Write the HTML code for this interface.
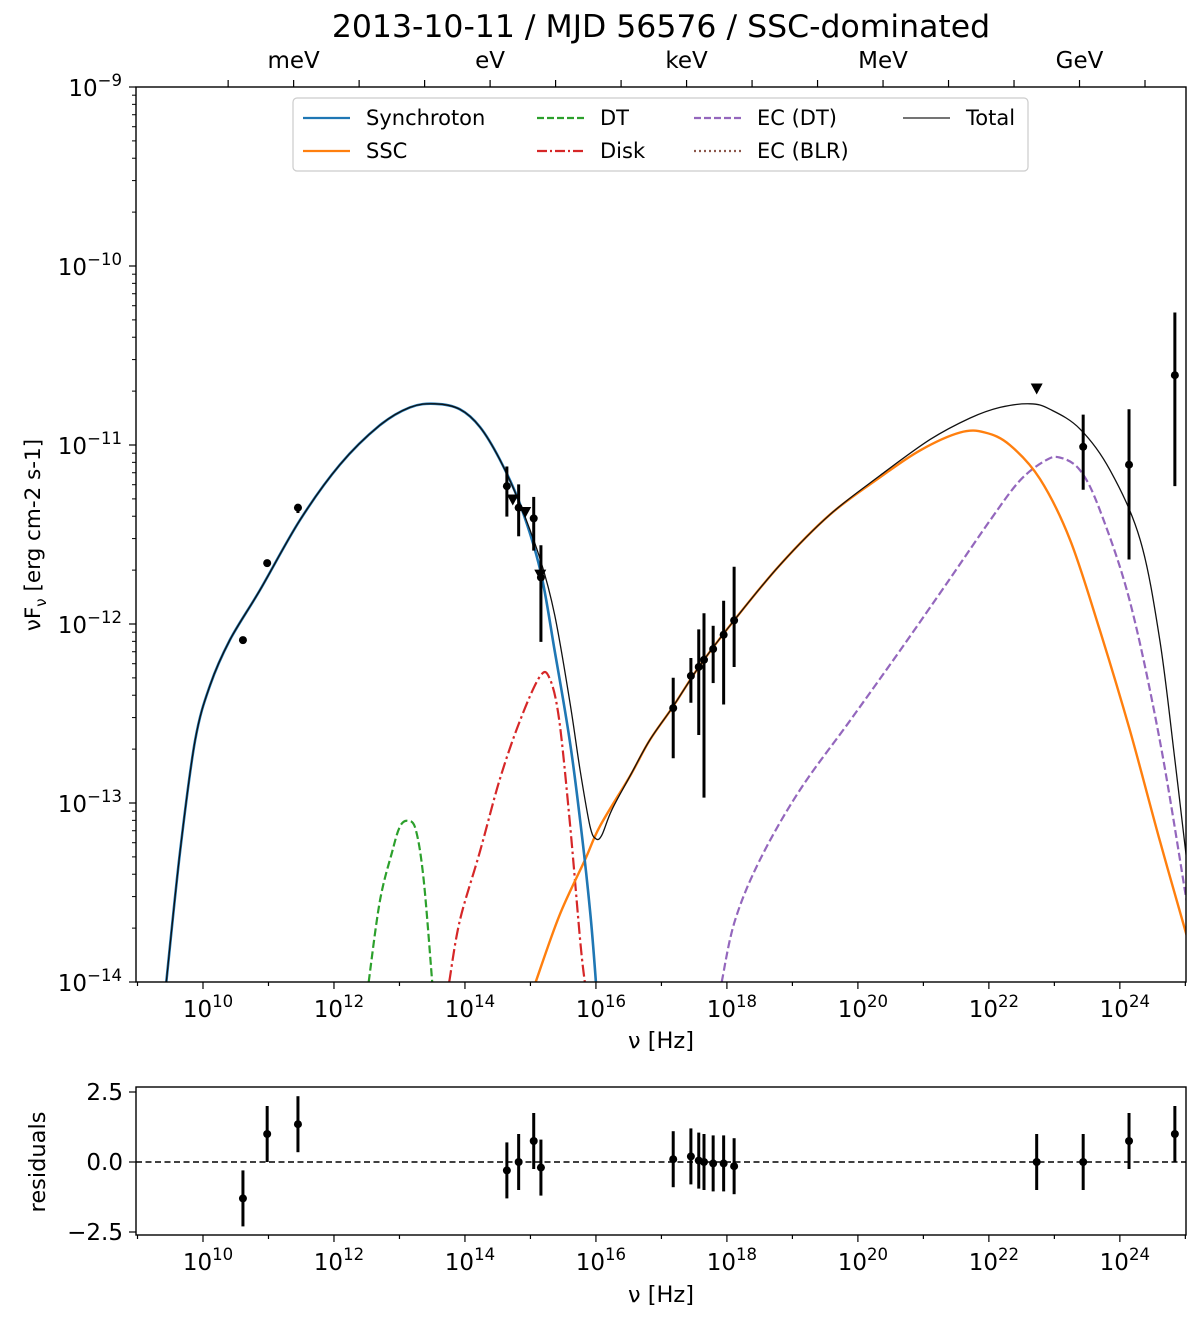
<!DOCTYPE html>
<html><head><meta charset="utf-8"><style>
body{margin:0;background:#fff}
svg text{font-family:"DejaVu Sans","Liberation Sans",sans-serif;fill:#000}
</style></head><body>
<svg id="c" width="1200" height="1322" viewBox="0 0 1200 1322" xmlns="http://www.w3.org/2000/svg"></svg>
<script>
// ---- data (log10 values) ----
const syncX=[9.44,9.65,9.88,10.11,10.41,10.87,11.48,12.09,12.70,13.16,13.54,13.92,14.23,14.53,14.84,15.15,15.37,15.60,15.76,15.91,16.00];
const syncY=[-14.00,-13.27,-12.65,-12.34,-12.09,-11.81,-11.42,-11.11,-10.89,-10.79,-10.77,-10.80,-10.90,-11.08,-11.33,-11.70,-12.15,-12.65,-13.10,-13.60,-14.00];
const totX=[9.44,9.65,9.88,10.11,10.41,10.87,11.48,12.09,12.70,13.16,13.54,13.92,14.23,14.53,14.84,15.15,15.37,15.60,15.76,15.91,16.00,16.09,16.24,16.52,16.82,17.18,17.59,18.11,18.81,19.57,20.34,21.10,21.71,22.17,22.63,22.93,23.39,23.85,24.31,24.61,24.84,25.02];
const totY=[-14.00,-13.27,-12.65,-12.34,-12.09,-11.81,-11.42,-11.11,-10.89,-10.79,-10.77,-10.80,-10.90,-11.08,-11.33,-11.64,-11.95,-12.43,-12.82,-13.13,-13.20,-13.18,-13.04,-12.85,-12.65,-12.46,-12.23,-11.98,-11.67,-11.39,-11.17,-10.97,-10.85,-10.79,-10.77,-10.80,-10.91,-11.14,-11.53,-12.09,-12.76,-13.32];
const sscX=[15.08,15.44,15.83,16.06,16.52,16.82,17.18,17.59,18.11,18.81,19.57,20.34,20.95,21.56,21.94,22.32,22.78,23.24,23.69,24.15,24.61,25.02];
const sscY=[-14.00,-13.63,-13.32,-13.13,-12.85,-12.65,-12.46,-12.23,-11.98,-11.67,-11.39,-11.18,-11.03,-10.93,-10.93,-11.00,-11.19,-11.53,-12.03,-12.59,-13.21,-13.74];
const ecX=[17.92,18.12,18.50,19.11,19.88,20.64,21.40,22.02,22.47,22.85,23.08,23.39,23.69,24.15,24.61,25.02];
const ecY=[-14.00,-13.66,-13.32,-12.93,-12.54,-12.15,-11.75,-11.42,-11.20,-11.09,-11.07,-11.14,-11.36,-11.87,-12.65,-13.55];
const dtX=[12.53,12.70,12.89,13.01,13.13,13.25,13.37,13.50];
const dtY=[-14.00,-13.55,-13.27,-13.13,-13.10,-13.15,-13.43,-14.00];
const diskX=[13.76,13.92,14.23,14.53,14.84,15.15,15.30,15.44,15.60,15.76,15.83];
const diskY=[-14.00,-13.66,-13.27,-12.87,-12.54,-12.29,-12.31,-12.54,-13.10,-13.77,-14.00];
// flux points
const ptX=[10.61,10.98,11.45,14.64,14.82,15.05,15.16,17.18,17.45,17.57,17.65,17.79,17.95,18.11,23.44,24.14,24.84];
const ptY=[-12.09,-11.66,-11.35,-11.23,-11.35,-11.41,-11.74,-12.47,-12.29,-12.24,-12.20,-12.14,-12.06,-11.98,-11.01,-11.11,-10.61];
const ptHi=[-12.09,-11.66,-11.33,-11.12,-11.22,-11.29,-11.56,-12.30,-12.19,-12.03,-11.94,-12.01,-11.87,-11.68,-10.83,-10.80,-10.26];
const ptLo=[-12.09,-11.66,-11.38,-11.40,-11.51,-11.59,-12.10,-12.75,-12.44,-12.62,-12.97,-12.33,-12.45,-12.24,-11.25,-11.64,-11.23];
const ulX=[14.73,14.92,15.15,22.73];
const ulY=[-11.31,-11.38,-11.73,-10.69];
// residuals
const resX=[10.61,10.98,11.45,14.64,14.82,15.05,15.16,17.18,17.45,17.57,17.65,17.79,17.95,18.11,22.73,23.44,24.14,24.84];
const resV=[-1.3,1.0,1.35,-0.3,0.0,0.75,-0.2,0.1,0.2,0.05,0.0,-0.05,-0.05,-0.15,0.0,0.0,0.75,1.0];
const resE=[1,1,1,1,1,1,1,1,1,1,1,1,1,1,1,1,1,1];
const xTicks=[10,12,14,16,18,20,22,24];
const yTicks=[-9,-10,-11,-12,-13,-14];
const rTicks=[2.5,0.0,-2.5];
const eLabels=["meV","eV","keV","MeV","GeV"];
const eLog=[11.384,14.384,17.384,20.384,23.384];

const NS="http://www.w3.org/2000/svg";
const svg=document.getElementById('c');
const L=136,R=1186,T=87,B=982,RT=1087,RB=1235;
const X0=8.977,X1=25.01;
const sx=v=>L+(v-X0)/(X1-X0)*(R-L);
const sy=v=>T+(-9-v)/5*(B-T);
const ry=v=>1162-v*28;
function el(tag,attrs,parent){const e=document.createElementNS(NS,tag);for(const k in attrs)e.setAttribute(k,attrs[k]);(parent||svg).appendChild(e);return e;}
function txt(x,y,s,size,anchor,parent){const t=el('text',{x:x,y:y,'font-size':size,'text-anchor':anchor||'middle'},parent);t.textContent=s;return t;}
function pw(x,y,exp,size,anchor){const t=el('text',{x:x,y:y,'font-size':size,'text-anchor':anchor});const a=document.createElementNS(NS,'tspan');a.textContent='10';t.appendChild(a);const b=document.createElementNS(NS,'tspan');b.setAttribute('dy',-10);b.setAttribute('font-size',size*0.72);b.textContent=exp;t.appendChild(b);return t;}

const defs=el('defs',{});const cp=el('clipPath',{id:'cp'},defs);el('rect',{x:L,y:T,width:R-L,height:B-T},cp);
const cp2=el('clipPath',{id:'cp2'},defs);el('rect',{x:L,y:RT,width:R-L,height:RB-RT},cp2);

let t=txt(661,37,'2013-10-11 / MJD 56576 / SSC-dominated',31.5);


for(let v=10.384;v<25;v+=1){const x=sx(v);if(x<L||x>R)continue;el('line',{x1:x,x2:x,y1:T,y2:T-7,stroke:'#000','stroke-width':1.2});}
eLabels.forEach((s,i)=>{const tt=txt(sx(eLog[i]),68,s,23);});

function xAxis(bot,gname){
 const g=el('g',{});
 for(let d=9;d<=25;d++){const x=sx(d);if(x<L-1||x>R+1)continue;el('line',{x1:x,x2:x,y1:bot,y2:bot+(d%2==0?7:4),stroke:'#000','stroke-width':1.2},g);}
 xTicks.forEach(d=>{pw(sx(d)+5,bot+35,String(d),23,'middle');});
}
xAxis(B,'x-axis');
xAxis(RB,'residual-x-axis');
let xl=txt(661,1048,'ν [Hz]',22.5);
xl=txt(661,1302,'ν [Hz]',22.5);

for(let d=-14;d<-9;d++){for(let m=2;m<10;m++){const y=sy(d+Math.log10(m));el('line',{x1:L,x2:L-4,y1:y,y2:y,stroke:'#000','stroke-width':1});}}
yTicks.forEach(d=>{const y=sy(d);el('line',{x1:L,x2:L-7,y1:y,y2:y,stroke:'#000','stroke-width':1.2});pw(122,y+9,'\u2212'+(-d),23,'end');});
let yl=el('text',{x:0,y:0,'font-size':21.5,'text-anchor':'middle',transform:'translate(40,535) rotate(-90)'});

yl.innerHTML='νF<tspan dy="6" font-size="15">ν</tspan><tspan dy="-6">  [erg cm-2 s-1]</tspan>';

function smooth(pts){let d='M'+pts[0][0].toFixed(1)+','+pts[0][1].toFixed(1);
 for(let i=0;i<pts.length-1;i++){const p0=pts[Math.max(0,i-1)],p1=pts[i],p2=pts[i+1],p3=pts[Math.min(pts.length-1,i+2)];
  const c1=[p1[0]+(p2[0]-p0[0])/6,p1[1]+(p2[1]-p0[1])/6],c2=[p2[0]-(p3[0]-p1[0])/6,p2[1]-(p3[1]-p1[1])/6];
  d+='C'+c1[0].toFixed(1)+','+c1[1].toFixed(1)+' '+c2[0].toFixed(1)+','+c2[1].toFixed(1)+' '+p2[0].toFixed(1)+','+p2[1].toFixed(1);}
 return d;}
function curve(xs,ys,color,w,dash,name){const p=smooth(xs.map((v,i)=>[sx(v),sy(ys[i])]));const e=el('path',{d:p,fill:'none',stroke:color,'stroke-width':w,'clip-path':'url(#cp)','stroke-linejoin':'round'});if(dash)e.setAttribute('stroke-dasharray',dash);}
curve(dtX,dtY,'#2ca02c',2.2,'8,3.5','dt-curve');
curve(diskX,diskY,'#d62728',2.2,'12,3.5,2.5,3.5','disk-curve');
curve(ecX,ecY,'#9467bd',2.2,'8,3.5','ec-dt-curve');
curve(sscX,sscY,'#ff7f0e',2.4,null,'ssc-curve');
curve(syncX,syncY,'#1f77b4',2.6,null,'synchrotron-curve');
curve(totX,totY,'#111',1.3,null,'total-curve');

const gp=el('g',{});
ptX.forEach((v,i)=>{const x=sx(v);el('line',{x1:x,x2:x,y1:sy(ptHi[i]),y2:sy(ptLo[i]),stroke:'#000','stroke-width':3},gp);const c=el('circle',{cx:x,cy:sy(ptY[i]),r:4,fill:'#000'},gp);});
ulX.forEach((v,i)=>{const x=sx(v),y=sy(ulY[i]);const p=el('path',{d:`M${x-6},${y-6}L${x+6},${y-6}L${x},${y+5}Z`,fill:'#000'},gp);});

let f=el('rect',{x:L,y:T,width:R-L,height:B-T,fill:'none',stroke:'#000','stroke-width':1.4});

const lg=el('g',{});
el('rect',{x:293,y:98,width:735,height:73,rx:4,fill:'#fff',stroke:'#ccc','stroke-width':1.2},lg);
const leg=[['Synchroton','#1f77b4',null,303,118],['SSC','#ff7f0e',null,303,151],['DT','#2ca02c','7,3',537,118],['Disk','#d62728','10,3,2,3',537,151],['EC (DT)','#9467bd','7,3',694,118],['EC (BLR)','#8c564b','2,3',694,151],['Total','#222',null,903,118]];
leg.forEach(a=>{const g=el('g',{},lg);el('line',{x1:a[3],x2:a[3]+47,y1:a[4],y2:a[4],stroke:a[1],'stroke-width':a[0]=='Total'?1.3:2.3,'stroke-dasharray':a[2]||'none'},g);txt(a[3]+63,a[4]+7,a[0],21,'start',g);});

const rg=el('g',{});
el('line',{x1:L,x2:R,y1:ry(0),y2:ry(0),stroke:'#000','stroke-width':1.4,'stroke-dasharray':'6,3.5'},rg);
resX.forEach((v,i)=>{const x=sx(v);el('line',{x1:x,x2:x,y1:ry(resV[i]+resE[i]),y2:ry(resV[i]-resE[i]),stroke:'#000','stroke-width':3,'clip-path':'url(#cp2)'},rg);const c=el('circle',{cx:x,cy:ry(resV[i]),r:4,fill:'#000'},rg);});
el('rect',{x:L,y:RT,width:R-L,height:RB-RT,fill:'none',stroke:'#000','stroke-width':1.4},rg);
rTicks.forEach(v=>{const y=ry(v);el('line',{x1:L,x2:L-7,y1:y,y2:y,stroke:'#000','stroke-width':1.2});const s=(v<0?'\u2212':'')+Math.abs(v).toFixed(1);txt(123,y+8,s,23,'end');});
let rl=el('text',{x:0,y:0,'font-size':22.5,'text-anchor':'middle',transform:'translate(45,1162) rotate(-90)'});rl.textContent='residuals';

</script>
</body></html>
